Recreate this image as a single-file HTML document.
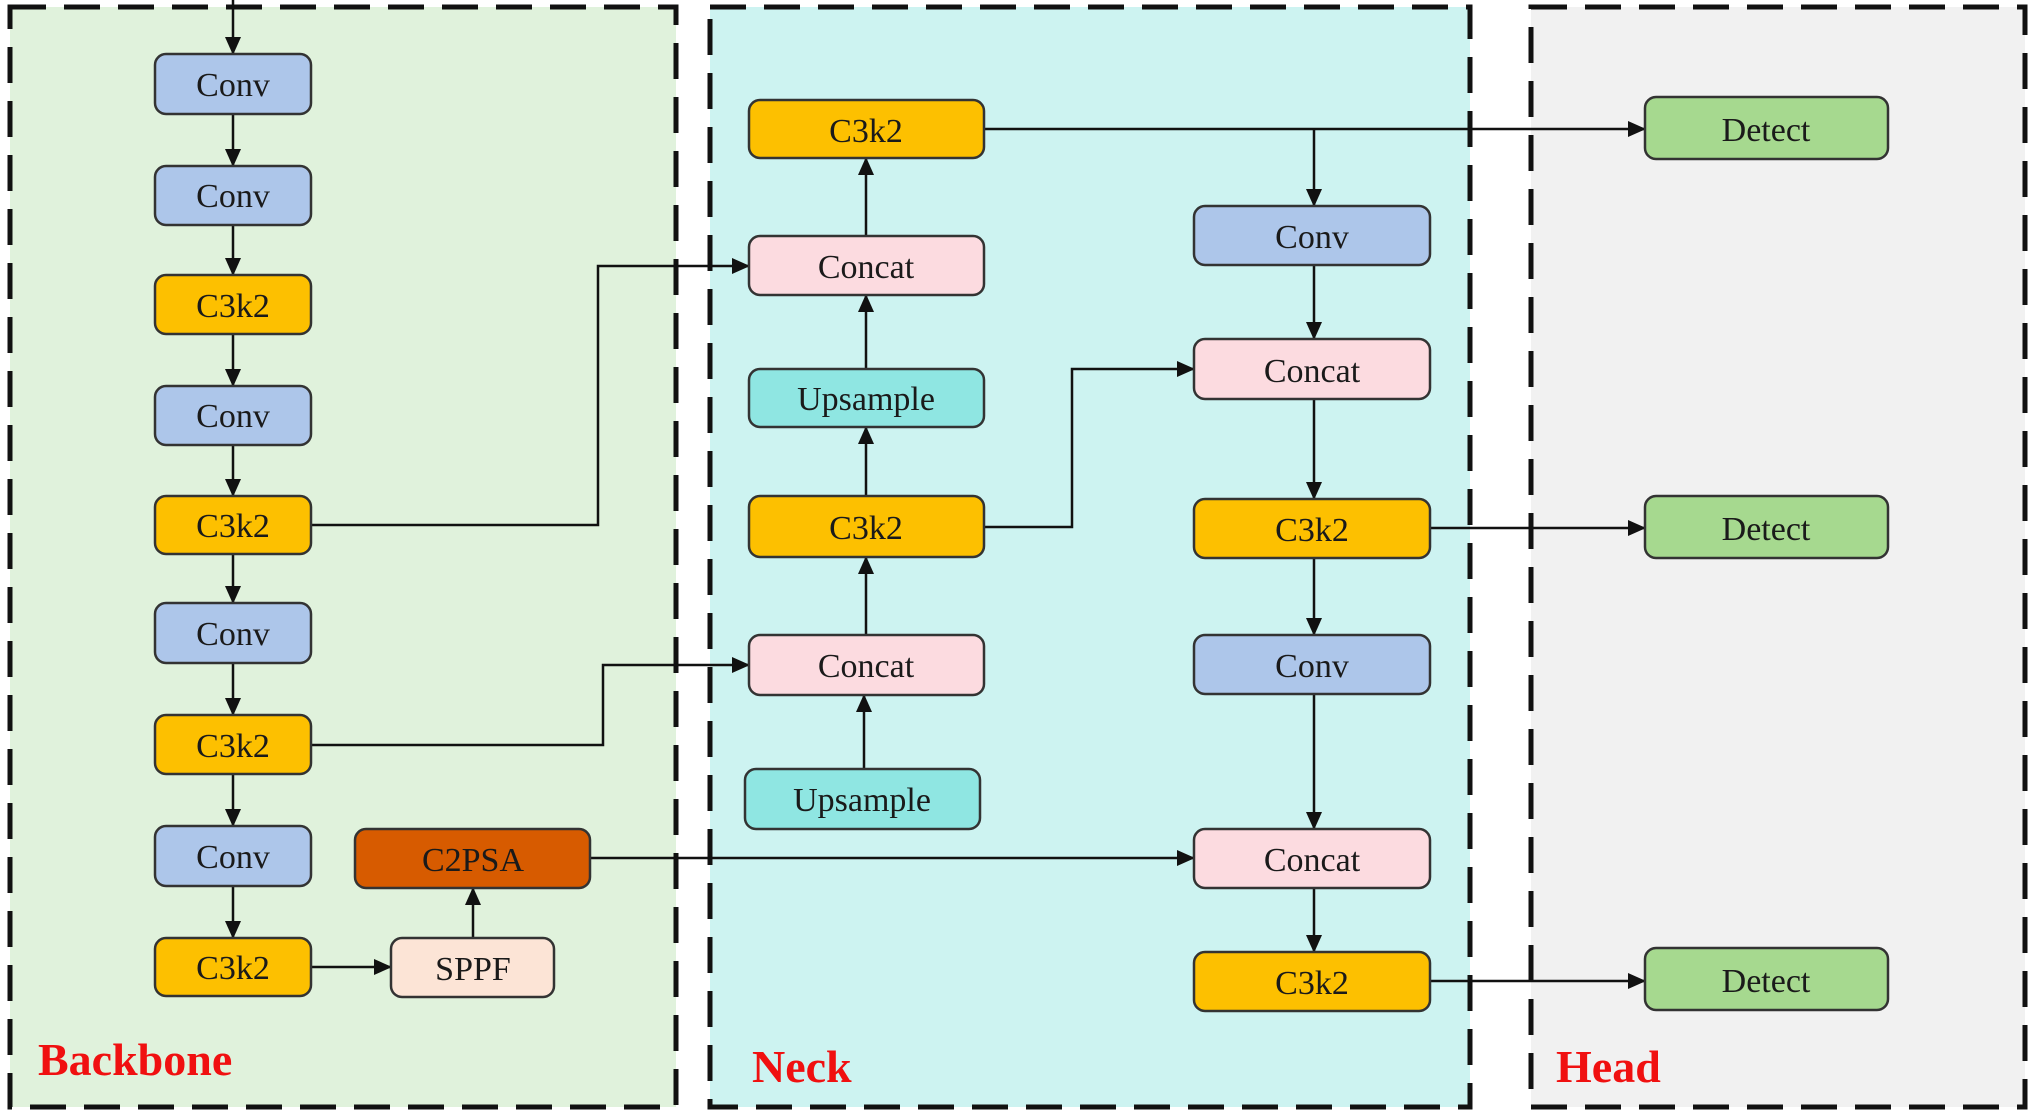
<!DOCTYPE html>
<html><head><meta charset="utf-8"><style>
html,body{margin:0;padding:0;background:#fff;}
svg{display:block}
text{font-family:"Liberation Serif",serif;}
</style></head><body>
<svg width="2030" height="1116" viewBox="0 0 2030 1116" xmlns="http://www.w3.org/2000/svg">
<defs>
<marker id="b" markerWidth="18" markerHeight="16" refX="17" refY="8" orient="auto" markerUnits="userSpaceOnUse">
<path d="M0,0 L18,8 L0,16 z" fill="#111"/></marker>
</defs>
<rect x="10" y="7" width="666" height="1100" fill="#e0f2dc" stroke="#111" stroke-width="5" stroke-dasharray="36 18"/>
<rect x="710" y="7" width="760" height="1100" fill="#cdf3f1" stroke="#111" stroke-width="5" stroke-dasharray="36 18"/>
<rect x="1531" y="7" width="494" height="1100" fill="#f1f1f1" stroke="#111" stroke-width="5" stroke-dasharray="36 18"/>

<g stroke="#111" stroke-width="2.5" fill="none" marker-end="url(#b)">
<line x1="233" y1="0" x2="233" y2="54"/>
<line x1="233" y1="114" x2="233" y2="166"/>
<line x1="233" y1="225" x2="233" y2="275"/>
<line x1="233" y1="334" x2="233" y2="386"/>
<line x1="233" y1="445" x2="233" y2="496"/>
<line x1="233" y1="554" x2="233" y2="603"/>
<line x1="233" y1="663" x2="233" y2="715"/>
<line x1="233" y1="774" x2="233" y2="826"/>
<line x1="233" y1="886" x2="233" y2="938"/>
<line x1="311" y1="967" x2="391" y2="967"/>
<line x1="473" y1="938" x2="473" y2="888"/>
<polyline points="311,525 598,525 598,266 749,266"/>
<polyline points="311,745 603,745 603,665 749,665"/>
<polyline points="590,858 1194,858"/>
<line x1="864" y1="769" x2="864" y2="695"/>
<line x1="866" y1="635" x2="866" y2="557"/>
<line x1="866" y1="496" x2="866" y2="427"/>
<line x1="866" y1="369" x2="866" y2="295"/>
<line x1="866" y1="236" x2="866" y2="158"/>
<polyline points="984,527 1072,527 1072,369 1194,369"/>
<line x1="984" y1="129" x2="1645" y2="129"/>
<polyline points="1314,129 1314,206"/>
<line x1="1314" y1="265" x2="1314" y2="339"/>
<line x1="1314" y1="399" x2="1314" y2="499"/>
<line x1="1314" y1="558" x2="1314" y2="635"/>
<line x1="1314" y1="694" x2="1314" y2="829"/>
<line x1="1314" y1="888" x2="1314" y2="952"/>
<line x1="1430" y1="528" x2="1645" y2="528"/>
<line x1="1430" y1="981" x2="1645" y2="981"/>
</g>

<g stroke="#333" stroke-width="2.5">
<rect x="155" y="54" width="156" height="60" rx="11" fill="#adc6ea"/>
<rect x="155" y="166" width="156" height="59" rx="11" fill="#adc6ea"/>
<rect x="155" y="275" width="156" height="59" rx="11" fill="#fdc000"/>
<rect x="155" y="386" width="156" height="59" rx="11" fill="#adc6ea"/>
<rect x="155" y="496" width="156" height="58" rx="11" fill="#fdc000"/>
<rect x="155" y="603" width="156" height="60" rx="11" fill="#adc6ea"/>
<rect x="155" y="715" width="156" height="59" rx="11" fill="#fdc000"/>
<rect x="155" y="826" width="156" height="60" rx="11" fill="#adc6ea"/>
<rect x="155" y="938" width="156" height="58" rx="11" fill="#fdc000"/>
<rect x="391" y="938" width="163" height="59" rx="11" fill="#fce4d6"/>
<rect x="355" y="829" width="235" height="59" rx="11" fill="#d75b00"/>
<rect x="749" y="100" width="235" height="58" rx="11" fill="#fdc000"/>
<rect x="749" y="236" width="235" height="59" rx="11" fill="#fcdbe0"/>
<rect x="749" y="369" width="235" height="58" rx="11" fill="#8fe6e2"/>
<rect x="749" y="496" width="235" height="61" rx="11" fill="#fdc000"/>
<rect x="749" y="635" width="235" height="60" rx="11" fill="#fcdbe0"/>
<rect x="745" y="769" width="235" height="60" rx="11" fill="#8fe6e2"/>
<rect x="1194" y="206" width="236" height="59" rx="11" fill="#adc6ea"/>
<rect x="1194" y="339" width="236" height="60" rx="11" fill="#fcdbe0"/>
<rect x="1194" y="499" width="236" height="59" rx="11" fill="#fdc000"/>
<rect x="1194" y="635" width="236" height="59" rx="11" fill="#adc6ea"/>
<rect x="1194" y="829" width="236" height="59" rx="11" fill="#fcdbe0"/>
<rect x="1194" y="952" width="236" height="59" rx="11" fill="#fdc000"/>
<rect x="1645" y="97" width="243" height="62" rx="11" fill="#a6d98f"/>
<rect x="1645" y="496" width="243" height="62" rx="11" fill="#a6d98f"/>
<rect x="1645" y="948" width="243" height="62" rx="11" fill="#a6d98f"/>
</g>

<g font-size="34" text-anchor="middle" fill="#1a1a1a">
<text x="233" y="96">Conv</text>
<text x="233" y="207">Conv</text>
<text x="233" y="317">C3k2</text>
<text x="233" y="427">Conv</text>
<text x="233" y="537">C3k2</text>
<text x="233" y="645">Conv</text>
<text x="233" y="757">C3k2</text>
<text x="233" y="868">Conv</text>
<text x="233" y="979">C3k2</text>
<text x="473" y="980">SPPF</text>
<text x="473" y="871">C2PSA</text>
<text x="866" y="142">C3k2</text>
<text x="866" y="278">Concat</text>
<text x="866" y="410">Upsample</text>
<text x="866" y="539">C3k2</text>
<text x="866" y="677">Concat</text>
<text x="862" y="811">Upsample</text>
<text x="1312" y="248">Conv</text>
<text x="1312" y="382">Concat</text>
<text x="1312" y="541">C3k2</text>
<text x="1312" y="677">Conv</text>
<text x="1312" y="871">Concat</text>
<text x="1312" y="994">C3k2</text>
<text x="1766" y="141">Detect</text>
<text x="1766" y="540">Detect</text>
<text x="1766" y="992">Detect</text>
</g>
<g font-size="46" font-weight="bold" fill="#f01010">
<text x="38" y="1075">Backbone</text>
<text x="752" y="1082">Neck</text>
<text x="1556" y="1082">Head</text>
</g>
</svg>
</body></html>
